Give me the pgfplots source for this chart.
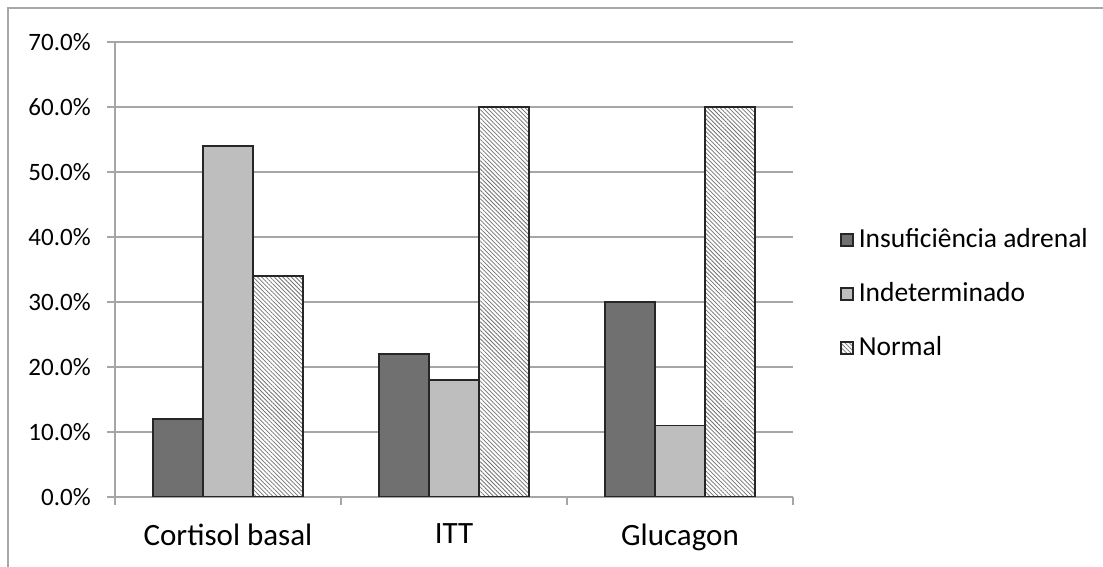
\documentclass[border=0pt]{standalone}
\usepackage{fontspec}
\setmainfont{Carlito}
\usepackage{pgfplots}
\pgfplotsset{compat=1.18}
\usetikzlibrary{patterns.meta}
\definecolor{darkbar}{HTML}{707070}
\definecolor{lightbar}{HTML}{BEBEBE}
\definecolor{gridgray}{HTML}{A6A6A6}
\definecolor{framegray}{HTML}{A8A8A8}
\definecolor{edge}{HTML}{262626}

\begin{document}
\begin{tikzpicture}
\useasboundingbox (0pt,0pt) rectangle (441.2pt,226.8pt);
% chart frame
\draw[framegray, line width=0.8pt] (3.2pt,-4pt) -- (3.2pt,223.6pt) -- (448pt,223.6pt);
\begin{axis}[
  at={(46pt,28pt)}, anchor=south west,
  scale only axis, width=271.2pt, height=182pt,
  ybar=0pt, bar width=20pt,
  xmin=-0.5, xmax=2.5, ymin=0, ymax=70,
  xtick={0,1,2},
  xticklabels={Cortisol basal, ITT, Glucagon},
  minor xtick={-0.5,0.5,1.5,2.5},
  major x tick style={draw=none},
  minor x tick style={gridgray, line width=0.6pt},
  ytick={0,10,...,70},
  yticklabels={0.0\%,10.0\%,20.0\%,30.0\%,40.0\%,50.0\%,60.0\%,70.0\%},
  y tick style={gridgray, line width=0.6pt},
  tick align=outside,
  major tick length=3.2pt, minor tick length=3.2pt,
  ymajorgrids,
  grid style={gridgray, line width=0.6pt},
  axis x line*=bottom, axis y line*=left,
  axis line style={gridgray, line width=0.6pt, -},
  /pgf/number format/assume math mode=true,
  yticklabel style={font=\fontsize{10}{12}\selectfont, xshift=-3pt},
  xticklabel style={font=\fontsize{12.4}{14}\selectfont, yshift=-4pt},
  legend style={at={(1.069,0.446)}, anchor=west, draw=none, fill=none,
    font=\fontsize{11}{13}\selectfont, row sep=8.5pt, inner sep=0pt,
    /tikz/every even column/.append style={column sep=2pt}},
  legend cell align=left,
  legend image code/.code={\draw[#1, line width=0.6pt] (0pt,-2.4pt) rectangle (4.8pt,2.4pt);},
]
\addplot[fill=darkbar, draw=edge, line width=0.7pt]
  coordinates {(0,12) (1,22) (2,30)};
\addplot[fill=lightbar, draw=edge, line width=0.7pt]
  coordinates {(0,54) (1,18) (2,11)};
\addplot[fill=white, draw=edge, line width=0.7pt,
  postaction={pattern={Lines[angle=-45,distance=1.2pt,line width=0.3pt]}, pattern color=black!55}]
  coordinates {(0,34) (1,60) (2,60)};
\legend{Insuficiência adrenal, Indeterminado, Normal}
\end{axis}
\end{tikzpicture}
\end{document}
